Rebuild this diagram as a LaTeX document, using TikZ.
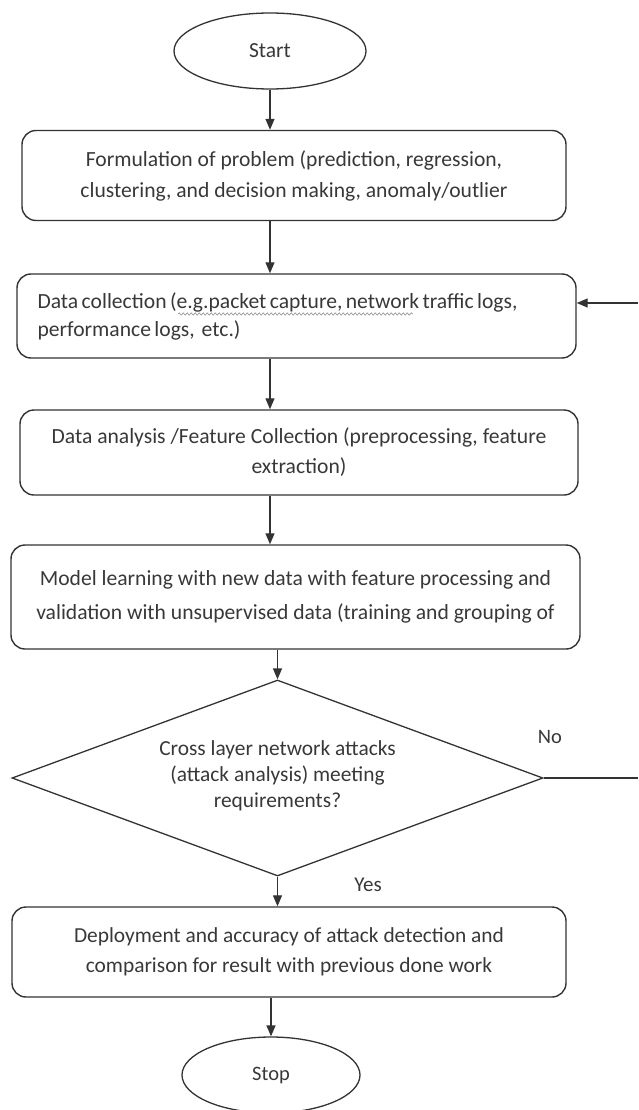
\documentclass[tikz,border=0pt]{standalone}
\usepackage{fontspec}
\setmainfont{Carlito}
\usetikzlibrary{arrows.meta,shapes.geometric,decorations.pathmorphing}
\definecolor{ink}{HTML}{333333}
\definecolor{txt}{HTML}{383838}
\definecolor{squig}{HTML}{9A9A9A}
\tikzset{
  box/.style={draw=ink, line width=1.4pt, rounded corners=14pt, inner sep=0pt,
              text=txt, align=center},
  term/.style={draw=ink, ellipse, line width=1.3pt, inner sep=0pt, text=txt},
  decision/.style={draw=ink, diamond, line width=1.3pt, inner sep=0pt},
  flow/.style={draw=ink, line width=1.3pt, -{Triangle[length=11pt,width=9pt]}},
  plain/.style={draw=ink, line width=1.3pt},
  lbl/.style={text=txt, inner sep=0pt, font=\fontsize{20.5}{24}\selectfont}
}
\begin{document}
\begin{tikzpicture}[x=1pt,y=-1pt]
\useasboundingbox (0,0) rectangle (638,1110);

% terminals
\node[term, minimum width=192pt, minimum height=76pt,
      font=\fontsize{21.5}{24}\selectfont] (start) at (270,51) {Start};
\node[term, minimum width=178pt, minimum height=76pt,
      font=\fontsize{20.5}{24}\selectfont] (stop) at (271,1075) {Stop};

% process boxes
\node[box, minimum width=544pt, minimum height=90pt,
      font=\fontsize{21.6}{31}\selectfont] (b1) at (294,175.5)
  {\raisebox{-2pt}{\parbox{530pt}{\centering
   Formulation of problem (prediction, regression,\\
   clustering, and decision making, anomaly/outlier}}};

\node[box, minimum width=559pt, minimum height=84pt, align=left,
      text width=518pt, inner xsep=20.5pt,
      font=\fontsize{21.6}{28}\selectfont] (b2) at (296.5,316)
  {\spaceskip=0.16em plus 0.05em minus 0.05em\relax
   Data collection (e.g.packet capture, network traffic logs,\\
   performance logs, \ etc.)};

\node[box, minimum width=558pt, minimum height=85pt,
      font=\fontsize{21.6}{30}\selectfont] (b3) at (299,452.5)
  {\raisebox{-6pt}{\parbox{530pt}{\centering
   Data analysis /Feature Collection (preprocessing, feature\\ extraction)}}};

\node[box, minimum width=569pt, minimum height=104pt,
      font=\fontsize{21.6}{34}\selectfont] (b4) at (295.5,597)
  {Model learning with new data with feature processing and\\
   validation with unsupervised data (training and grouping of};

\node[decision, minimum width=531pt, minimum height=196pt] (dec) at (277.5,778) {};
\node[text=txt, align=center, inner sep=0pt,
      font=\fontsize{21.4}{26}\selectfont] (dectext) at ([yshift=2pt]dec.center)
  {Cross layer network attacks\\ (attack analysis) meeting\\ requirements?};

\node[box, minimum width=554pt, minimum height=90pt,
      font=\fontsize{21.4}{30}\selectfont] (b5) at (289,952)
  {Deployment and accuracy of attack detection and\\
   comparison for result with previous done work};

% branch labels
\node[lbl] (no) at (550,737) {No};
\node[lbl, font=\fontsize{21}{24}\selectfont] (yes) at (368,885) {Yes};

% spell-check squiggle under part of the data collection text
\draw[squig, line width=0.7pt, decorate,
      decoration={snake, amplitude=1.1pt, segment length=4pt}]
  (178,314) -- (413,314);

% main flow
\draw[flow] (start.south) -- (start.south |- b1.north);
\draw[flow] (b1.south -| start.south) -- (b2.north -| start.south);
\draw[flow] (b2.south -| start.south) -- (b3.north -| start.south);
\draw[flow] (b3.south -| start.south) -- (b4.north -| start.south);
\draw[flow] (b4.south -| dec.north) -- (dec.north);
\draw[flow] (dec.south) -- (dec.south |- b5.north);
\draw[flow] (b5.south -| stop.north) -- (stop.north);

% loop back on "No"
\coordinate (noout) at (638,778);
\coordinate (fbin) at (638,303);
\draw[plain] (dec.east) -- (noout);
\draw[flow] (fbin) -- (fbin -| b2.east);
\end{tikzpicture}
\end{document}
